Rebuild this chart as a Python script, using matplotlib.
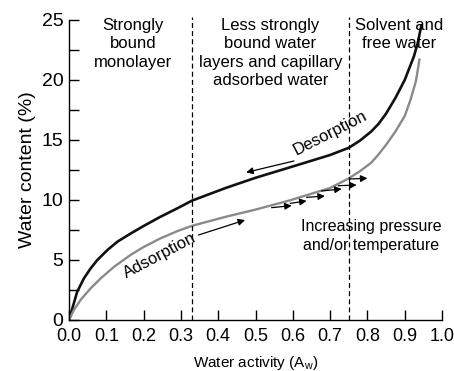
import matplotlib
matplotlib.use("Agg")
import matplotlib.pyplot as plt

plt.rcParams['font.family'] = ['Liberation Sans', 'DejaVu Sans']
plt.rcParams['mathtext.fontset'] = 'custom'
plt.rcParams['mathtext.rm'] = 'Liberation Sans'
plt.rcParams['mathtext.it'] = 'Liberation Sans'

# desorption (black) and adsorption (grey) isotherms
aw_des = [0.0, 0.009, 0.022, 0.04, 0.058, 0.076, 0.103, 0.13, 0.165, 0.197,
          0.245, 0.29, 0.33, 0.42, 0.5, 0.59, 0.7, 0.75, 0.78, 0.81, 0.83,
          0.85, 0.875, 0.9, 0.91, 0.925, 0.935, 0.945]
wc_des = [0.0, 0.97, 2.36, 3.47, 4.3, 5.0, 5.83, 6.53, 7.2, 7.78,
          8.6, 9.3, 9.95, 11.0, 11.85, 12.7, 13.75, 14.35, 14.95, 15.7, 16.35,
          17.2, 18.5, 20.0, 20.8, 22.0, 23.1, 24.6]

aw_ads = [0.0, 0.013, 0.031, 0.058, 0.085, 0.121, 0.165, 0.201, 0.245, 0.29,
          0.33, 0.42, 0.5, 0.59, 0.7, 0.75, 0.78, 0.81, 0.83, 0.85, 0.875,
          0.9, 0.915, 0.93, 0.94]
wc_ads = [0.0, 0.83, 1.67, 2.64, 3.47, 4.44, 5.42, 6.1, 6.8, 7.4,
          7.85, 8.6, 9.2, 9.95, 11.0, 11.8, 12.4, 13.1, 13.8, 14.6, 15.7,
          17.0, 18.3, 19.9, 21.8]

region_edges = [0.33, 0.75]

# "increasing pressure and/or temperature" arrows (tail -> head)
shift_tails = [(0.543, 9.36), (0.593, 9.72), (0.637, 10.22),
               (0.677, 10.75), (0.722, 11.19), (0.753, 11.75)]
shift_heads = [(0.597, 9.53), (0.637, 9.92), (0.686, 10.33),
               (0.731, 10.92), (0.771, 11.25), (0.800, 11.81)]

fig = plt.figure(figsize=(4.54, 3.71), dpi=100)
ax = fig.add_axes([0.152, 0.1375, 0.8216, 0.8086])

ax.plot(aw_des, wc_des, color='#111111', lw=1.9, solid_capstyle='butt')
ax.plot(aw_ads, wc_ads, color='#8a8a8a', lw=1.7, solid_capstyle='butt')

for x in region_edges:
    ax.axvline(x, ymax=1.01, color='black', lw=0.9, ls=(0, (4, 2.5)), clip_on=False)

ax.set_xlim(0, 1.0)
ax.set_ylim(0, 25)
ax.set_xticks([i / 10 for i in range(11)])
ax.set_xticklabels([f"{i / 10:.1f}" for i in range(11)])
ax.set_yticks([0, 5, 10, 15, 20, 25])
ax.set_yticks([2.5, 7.5, 12.5, 17.5, 22.5], minor=True)
ax.tick_params(axis='both', which='both', direction='in', length=7, width=1.0,
               labelsize=14)
ax.tick_params(axis='x', pad=6, labelsize=13)
ax.tick_params(axis='y', pad=4)
for s in ['top', 'right']:
    ax.spines[s].set_visible(False)
for s in ['left', 'bottom']:
    ax.spines[s].set_linewidth(1.0)

ax.set_ylabel("Water content (%)", fontsize=14, labelpad=4)
ax.set_xlabel("Water activity (A$_w$)", fontsize=11, labelpad=6)

txt = dict(ha='center', va='top', fontsize=12, linespacing=1.3)
ax.text(0.172, 25.2, "Strongly\nbound\nmonolayer", **txt)
ax.text(0.54, 25.2, "Less strongly\nbound water\nlayers and capillary\nadsorbed water", **txt)
ax.text(0.885, 25.2, "Solvent and\nfree water", **txt)
ax.text(0.81, 7.0, "Increasing pressure\nand/or temperature", ha='center', va='center',
        fontsize=11.5, linespacing=1.3)

ax.text(0.70, 15.6, "Desorption", rotation=27, ha='center', va='center', fontsize=12)
ax.text(0.243, 5.4, "Adsorption", rotation=28, ha='center', va='center', fontsize=12)

arrow = dict(arrowstyle='-|>', color='black', lw=0.9, mutation_scale=10,
             shrinkA=0, shrinkB=0)
ax.annotate("", xy=(0.475, 12.3), xytext=(0.603, 13.25), arrowprops=arrow)
ax.annotate("", xy=(0.472, 8.33), xytext=(0.347, 7.08), arrowprops=arrow)
for t, h in zip(shift_tails, shift_heads):
    ax.annotate("", xy=h, xytext=t, arrowprops=arrow)

fig.savefig("out.png", dpi=100)
